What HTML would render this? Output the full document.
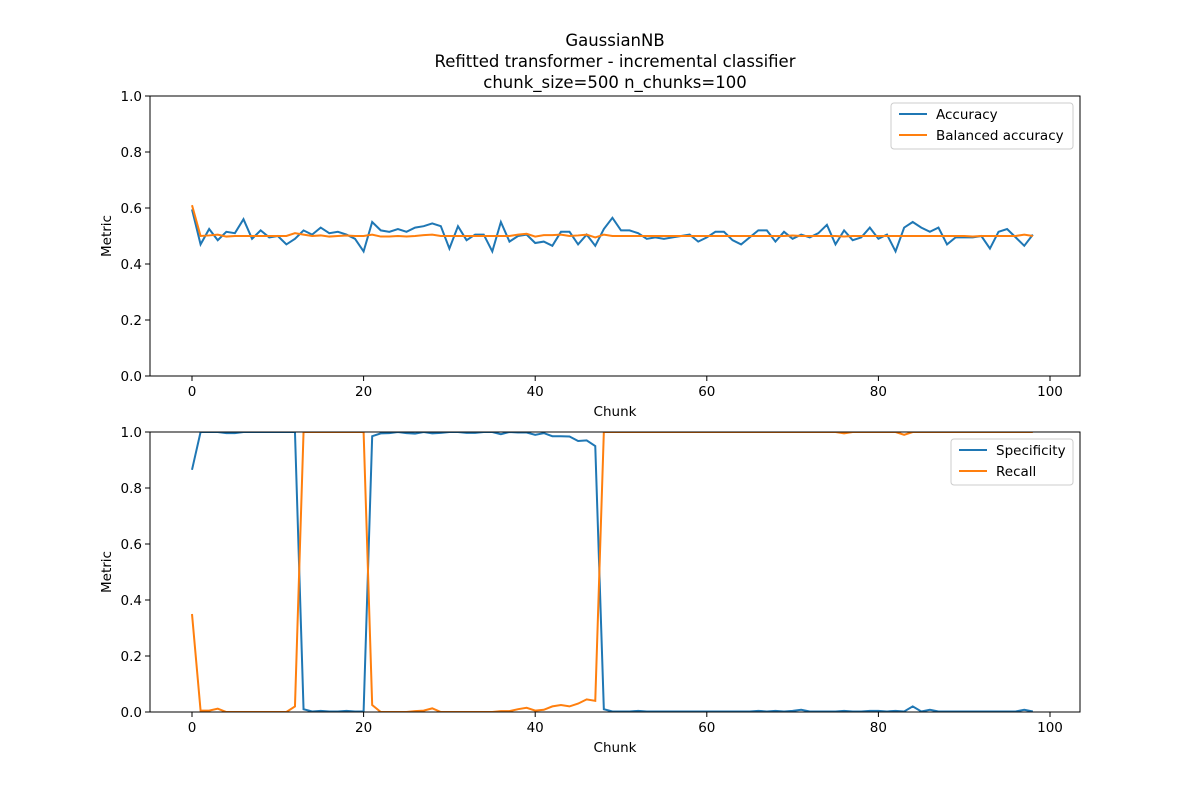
<!DOCTYPE html>
<html><head><meta charset="utf-8"><style>
body{margin:0;background:#fff}
svg{display:block;font-family:"DejaVu Sans","Liberation Sans",sans-serif}
</style></head><body>
<svg id="chart" width="1200" height="800" viewBox="0 0 1200 800">
<rect width="1200" height="800" fill="#fff"/>
<g font-size="16.5" text-anchor="middle" fill="#000">
<text x="615" y="46">GaussianNB</text>
<text x="615" y="67">Refitted transformer - incremental classifier</text>
<text x="615" y="88">chunk_size=500 n_chunks=100</text>
</g>
<g id="top"></g>
<g id="bot"></g>
</svg>
<script>
const accuracy=[0.595,0.47,0.525,0.485,0.515,0.51,0.56,0.49,0.52,0.495,0.5,0.47,0.49,0.52,0.505,0.53,0.51,0.515,0.505,0.49,0.445,0.55,0.52,0.515,0.525,0.515,0.53,0.535,0.545,0.535,0.455,0.535,0.485,0.505,0.505,0.445,0.55,0.48,0.5,0.505,0.475,0.48,0.465,0.515,0.515,0.47,0.505,0.465,0.525,0.565,0.52,0.52,0.51,0.49,0.495,0.49,0.495,0.5,0.505,0.48,0.495,0.515,0.515,0.485,0.47,0.495,0.52,0.52,0.48,0.515,0.49,0.505,0.495,0.51,0.54,0.47,0.52,0.485,0.495,0.53,0.49,0.505,0.445,0.53,0.55,0.53,0.515,0.53,0.47,0.495,0.495,0.495,0.5,0.455,0.515,0.525,0.495,0.465,0.505];
const balanced=[0.61,0.5,0.502,0.505,0.498,0.5,0.5,0.5,0.5,0.5,0.5,0.5,0.51,0.505,0.5,0.502,0.498,0.5,0.502,0.5,0.5,0.505,0.498,0.498,0.5,0.498,0.5,0.503,0.505,0.5,0.5,0.5,0.5,0.5,0.5,0.5,0.5,0.5,0.505,0.508,0.498,0.503,0.503,0.505,0.5,0.502,0.505,0.495,0.505,0.5,0.5,0.5,0.5,0.5,0.5,0.5,0.5,0.5,0.5,0.5,0.5,0.5,0.5,0.5,0.5,0.5,0.5,0.5,0.5,0.5,0.502,0.5,0.5,0.5,0.5,0.5,0.498,0.5,0.5,0.5,0.5,0.5,0.5,0.5,0.5,0.5,0.5,0.5,0.5,0.5,0.5,0.498,0.5,0.5,0.5,0.5,0.5,0.505,0.5];
const specificity=[0.865,1,1,1,0.996,0.996,1,1,1,1,1,1,1,0.01,0.002,0.004,0.002,0.002,0.004,0.002,0.002,0.985,0.995,0.996,1,0.996,0.994,1,0.995,0.997,1,1,0.997,0.997,1,1,0.992,1,0.998,0.998,0.99,0.996,0.985,0.985,0.984,0.968,0.97,0.95,0.01,0.002,0.002,0.002,0.004,0.002,0.002,0.002,0.002,0.002,0.002,0.002,0.002,0.002,0.002,0.002,0.002,0.002,0.004,0.002,0.004,0.002,0.004,0.008,0.002,0.002,0.002,0.002,0.004,0.002,0.002,0.004,0.004,0.002,0.004,0.002,0.02,0.002,0.008,0.002,0.002,0.002,0.002,0.002,0.002,0.002,0.002,0.002,0.002,0.008,0.002];
const recall=[0.35,0.005,0.005,0.012,0,0,0,0,0,0,0,0,0.02,1,1,1,1,1,1,1,1,0.025,0,0,0,0,0.003,0.005,0.013,0,0,0,0,0,0,0,0.003,0.003,0.01,0.015,0.005,0.008,0.02,0.025,0.02,0.03,0.045,0.04,1,1,1,1,1,1,1,1,1,1,1,1,1,1,1,1,1,1,1,1,1,1,1,1,1,1,1,1,0.995,1,1,1,1,1,1,0.99,1,1,1,1,1,1,1,1,1,1,1,1,1,1,1];
const xTicks=[0,20,40,60,80,100];
const yTicks=[0,0.2,0.4,0.6,0.8,1.0];
const NS="http://www.w3.org/2000/svg";
function mk(parent,tag,attrs){const e=document.createElementNS(NS,tag);for(const k in attrs)e.setAttribute(k,attrs[k]);parent.appendChild(e);return e;}
function panel(g,top,series,lx,lw){
  const L=150,R=1080,T=top,B=top+280;
  const xs=v=>192+v*8.58, ys=v=>B-v*280;
  const clipId='c'+top;
  const cp=mk(g,'clipPath',{id:clipId});mk(cp,'rect',{x:L,y:T,width:R-L,height:B-T});
  series.forEach(s=>{
    const p=mk(g,'polyline',{points:s.d.map((v,i)=>xs(i)+','+ys(v)).join(' '),fill:'none',stroke:s.c,'stroke-width':2,'clip-path':'url(#'+clipId+')'});
    
    
  });
  const fr=mk(g,'rect',{x:L,y:T,width:R-L,height:B-T,fill:'none',stroke:'#000','stroke-width':1});
  
  xTicks.forEach(t=>{
    mk(g,'line',{x1:xs(t),x2:xs(t),y1:B,y2:B+5,stroke:'#000'});
    const tx=mk(g,'text',{x:xs(t),y:B+20,'font-size':13.5,'text-anchor':'middle'});tx.textContent=t;
    
  });
  yTicks.forEach(t=>{
    mk(g,'line',{x1:L-5,x2:L,y1:ys(t),y2:ys(t),stroke:'#000'});
    const tx=mk(g,'text',{x:L-8,y:ys(t)+5,'font-size':13.5,'text-anchor':'end'});tx.textContent=t.toFixed(1);
    
  });
  const xl=mk(g,'text',{x:615,y:B+40,'font-size':13.5,'text-anchor':'middle'});xl.textContent='Chunk';
  
  const yl=mk(g,'text',{x:111,y:(T+B)/2,'font-size':13.5,'text-anchor':'middle',transform:'rotate(-90 111 '+((T+B)/2)+')'});yl.textContent='Metric';
  
  const lg=mk(g,'g',{});
  
  mk(lg,'rect',{x:lx,y:T+7,width:lw,height:46,rx:3,fill:'#fff',stroke:'#ccc'});
  series.forEach((s,i)=>{
    const y=T+18+i*21;
    mk(lg,'line',{x1:lx+8,x2:lx+36,y1:y,y2:y,stroke:s.c,'stroke-width':2});
    const t=mk(lg,'text',{x:lx+45,y:y+5,'font-size':13.5});t.textContent=s.n;
    
  });
}
panel(document.getElementById('top'),96,[{d:accuracy,c:'#1f77b4',n:'Accuracy'},{d:balanced,c:'#ff7f0e',n:'Balanced accuracy'}],891,182);
panel(document.getElementById('bot'),432,[{d:specificity,c:'#1f77b4',n:'Specificity'},{d:recall,c:'#ff7f0e',n:'Recall'}],951,122);
</script>
</body></html>
